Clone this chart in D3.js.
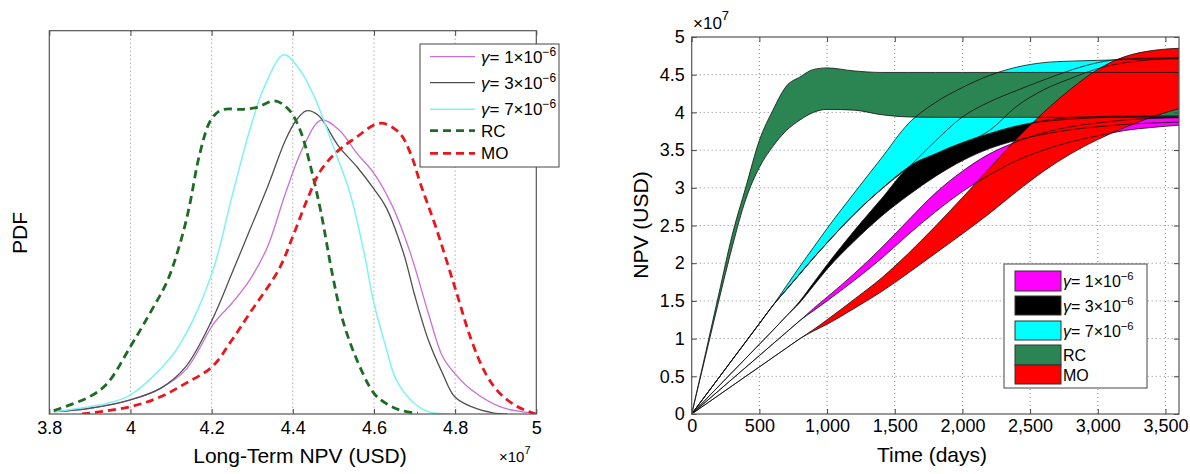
<!DOCTYPE html>
<html>
<head>
<meta charset="utf-8">
<script src="https://cdn.jsdelivr.net/npm/d3@7"></script>
<style>
  body { margin: 0; background: #fff; }
  svg text { font-family: "Liberation Sans", Arial, Helvetica, sans-serif; }
</style>
</head>
<body>
<svg id="chart" width="1190" height="474"></svg>
<script>
// ---------------- data ----------------
// left panel: x in units of 1e7 USD, pdf scaled so the frame top = 1
var pdfTicks = [3.8, 4, 4.2, 4.4, 4.6, 4.8, 5];

var pdfGamma1 = [[3.811,.006],[3.9,.015],[4.0,.037],[4.074,.067],[4.136,.115],[4.206,.237],[4.25,.289],
  [4.294,.350],[4.338,.437],[4.382,.576],[4.426,.697],[4.47,.767],[4.514,.741],[4.558,.680],[4.6,.628],
  [4.646,.541],[4.69,.419],[4.734,.263],[4.769,.150],[4.799,.106],[4.84,.063],[4.91,.019],[4.963,.006],[4.998,.002]];

var pdfGamma3 = [[3.811,.006],[3.899,.015],[4.0,.037],[4.074,.067],[4.136,.123],[4.201,.245],[4.25,.367],
  [4.294,.480],[4.338,.593],[4.382,.715],[4.409,.767],[4.433,.791],[4.462,.780],[4.514,.697],[4.558,.645],
  [4.602,.584],[4.629,.541],[4.673,.419],[4.699,.315],[4.734,.193],[4.769,.106],[4.799,.045],[4.84,.019],
  [4.893,.003],[4.928,0]];

var pdfGamma7 = [[3.811,.006],[3.899,.019],[3.943,.028],[4.0,.050],[4.101,.150],[4.154,.245],[4.206,.384],
  [4.25,.567],[4.294,.741],[4.33,.854],[4.378,.937],[4.418,.897],[4.453,.828],[4.506,.680],[4.541,.576],
  [4.576,.419],[4.6,.289],[4.629,.176],[4.655,.089],[4.699,.028],[4.734,.006],[4.787,0]];

var pdfRC = [[3.811,.009],[3.899,.045],[3.943,.080],[4.0,.176],[4.048,.263],[4.092,.350],[4.127,.463],
  [4.145,.541],[4.171,.680],[4.198,.767],[4.224,.793],[4.277,.795],[4.312,.800],[4.356,.817],[4.391,.793],
  [4.418,.741],[4.444,.645],[4.47,.523],[4.497,.367],[4.523,.245],[4.558,.141],[4.6,.054],[4.629,.028],
  [4.664,.010],[4.708,.002]];

var pdfMO = [[3.881,0],[4.0,.019],[4.074,.045],[4.136,.080],[4.201,.123],[4.25,.193],[4.294,.263],
  [4.365,.376],[4.4,.463],[4.435,.558],[4.47,.637],[4.514,.689],[4.558,.723],[4.6,.754],[4.624,.758],
  [4.664,.732],[4.69,.680],[4.717,.593],[4.752,.489],[4.799,.332],[4.84,.193],[4.875,.106],[4.91,.054],
  [4.954,.019],[4.998,0]];

// right panel: NPV (1e7 USD) over time, low / high envelope of each strategy plus inner traces
var timeDays = [0,100,200,300,400,500,600,700,800,900,1000,1200,1400,1600,1800,2000,2200,2400,2600,2800,3000,3200,3400,3600];
var timeTicks = [0,500,1000,1500,2000,2500,3000,3500];
var npvTicks = [0,0.5,1,1.5,2,2.5,3,3.5,4,4.5,5];

var rcHi = [0,0.79,1.59,2.38,3.01,3.63,4.03,4.35,4.47,4.57,4.59,4.55,4.53,4.53,4.53,4.53,4.53,4.53,4.53,4.53,4.53,4.53,4.53,4.53];
var rcLo = [0,0.75,1.5,2.22,2.85,3.27,3.55,3.76,3.9,4.0,4.04,4.03,3.97,3.94,3.935,3.935,3.935,3.935,3.935,3.935,3.935,3.935,3.935,3.935];

var g7Hi = [0,0.24,0.48,0.72,0.96,1.2,1.44,1.7,1.96,2.21,2.46,2.93,3.39,3.85,4.13,4.33,4.49,4.6,4.66,4.68,4.69,4.70,4.71,4.71];
var g7Lo = [0,0.24,0.48,0.72,0.96,1.2,1.44,1.65,1.86,2.07,2.27,2.65,2.98,3.27,3.44,3.58,3.7,3.81,3.89,3.93,3.945,3.95,3.95,3.95];
var g7MidA = [0,0.24,0.48,0.72,0.96,1.2,1.44,1.65,1.86,2.07,2.27,2.65,2.98,3.27,3.62,3.94,4.14,4.29,4.43,4.56,4.66,4.71,4.72,4.73];
var g7MidB = [0,0.24,0.48,0.72,0.96,1.2,1.44,1.65,1.86,2.07,2.27,2.65,2.98,3.27,3.44,3.58,3.76,4.08,4.3,4.45,4.58,4.66,4.7,4.72];

var g3Hi = [0,0.185,0.37,0.555,0.74,0.925,1.11,1.3,1.5,1.74,1.98,2.43,2.85,3.27,3.45,3.6,3.72,3.82,3.88,3.91,3.93,3.94,3.95,3.95];
var g3Lo = [0,0.185,0.37,0.555,0.74,0.925,1.11,1.3,1.48,1.7,1.92,2.29,2.62,2.9,3.15,3.36,3.52,3.63,3.71,3.77,3.81,3.84,3.86,3.87];

var g1Hi = [0,0.155,0.31,0.465,0.62,0.775,0.93,1.085,1.24,1.4,1.55,1.86,2.2,2.57,2.93,3.22,3.45,3.61,3.73,3.81,3.86,3.9,3.92,3.93];
var g1Lo = [0,0.155,0.31,0.465,0.62,0.775,0.93,1.085,1.24,1.37,1.5,1.77,2.06,2.38,2.68,2.95,3.17,3.36,3.5,3.61,3.69,3.76,3.8,3.83];

var moHi = [0,0.125,0.25,0.375,0.5,0.625,0.75,0.875,1.0,1.12,1.25,1.52,1.8,2.13,2.49,2.87,3.26,3.65,4.0,4.31,4.57,4.74,4.82,4.85];
var moLo = [0,0.125,0.25,0.375,0.5,0.625,0.75,0.875,1.0,1.1,1.19,1.4,1.62,1.87,2.13,2.39,2.66,2.95,3.22,3.45,3.64,3.8,3.94,4.05];

var legendNames = ["g1", "g3", "g7", "RC", "MO"];
var legendExp = {g1: "1", g3: "3", g7: "7"};

// ---------------- drawing ----------------
var svg = d3.select("#chart");

function styleAxis(g, size) {
  g.attr("font-size", size).attr("font-family", null);
  g.select(".domain").remove();
  g.selectAll(".tick line").attr("stroke", "#444");
  g.selectAll(".tick text").attr("fill", "#000");
}

function legendLabel(sel, name, size) {
  if (legendExp[name]) {
    sel.append("tspan").attr("font-style", "italic").text("\u03b3");
    sel.append("tspan").text("= " + legendExp[name] + "\u00d710");
    sel.append("tspan").attr("font-size", size * 0.7).attr("dy", -size * 0.42).text("\u22126");
  } else {
    sel.text(name);
  }
}

// ===== left panel =====
var L = {left: 49.3, right: 536.3, top: 30.7, bottom: 414};
var xL = d3.scaleLinear().domain([3.8, 5]).range([L.left, L.right]);
var yL = d3.scaleLinear().domain([0, 1]).range([L.bottom, L.top]);
var gL = svg.append("g");

svg.append("clipPath").attr("id", "clipL").append("rect")
  .attr("x", L.left).attr("y", L.top).attr("width", L.right - L.left).attr("height", L.bottom - L.top);

gL.append("g").selectAll("line")
  .data(pdfTicks.slice(1, -1))
  .enter().append("line")
    .attr("x1", d => xL(d)).attr("x2", d => xL(d))
    .attr("y1", L.top).attr("y2", L.bottom)
    .attr("stroke", "#888").attr("stroke-dasharray", "1,3");

var pdfLine = d3.line()
  .x(d => xL(d[0])).y(d => yL(d[1]))
  .curve(d3.curveCatmullRom.alpha(0.5));

var leftSeries = [
  {name: "g1", data: pdfGamma1, color: "#cc6fd6", width: 1.3, dash: null},
  {name: "g3", data: pdfGamma3, color: "#505050", width: 1.3, dash: null},
  {name: "g7", data: pdfGamma7, color: "#7ff3f3", width: 1.5, dash: null},
  {name: "RC", data: pdfRC, color: "#1d6b24", width: 2.8, dash: "8,5"},
  {name: "MO", data: pdfMO, color: "#e8161e", width: 2.8, dash: "8,5"}
];

gL.append("g").attr("clip-path", "url(#clipL)")
  .selectAll("path")
  .data(leftSeries)
  .enter().append("path")
    .attr("d", d => pdfLine(d.data))
    .attr("fill", "none")
    .attr("stroke", d => d.color)
    .attr("stroke-width", d => d.width)
    .attr("stroke-dasharray", d => d.dash);

gL.append("g").attr("transform", `translate(0,${L.bottom})`)
  .call(d3.axisBottom(xL).tickValues(pdfTicks).tickSize(-5).tickPadding(7).tickFormat(d => d))
  .call(g => styleAxis(g, 18));
gL.append("g").attr("transform", `translate(0,${L.top})`)
  .call(d3.axisTop(xL).tickValues(pdfTicks).tickSize(-5).tickFormat(""))
  .call(g => styleAxis(g, 18));

gL.append("rect")
  .attr("x", L.left).attr("y", L.top).attr("width", L.right - L.left).attr("height", L.bottom - L.top)
  .attr("fill", "none").attr("stroke", "#555").attr("stroke-width", 1.2);

gL.append("text").attr("x", 300).attr("y", 463).attr("text-anchor", "middle")
  .attr("font-size", 21).text("Long-Term NPV (USD)");
gL.append("text").attr("transform", "translate(27,233) rotate(-90)").attr("text-anchor", "middle")
  .attr("font-size", 21).text("PDF");
gL.append("text").attr("x", 499).attr("y", 462).attr("font-size", 15)
  .call(t => t.append("tspan").text("\u00d710"))
  .call(t => t.append("tspan").attr("font-size", 11).attr("dy", -8).text("7"));

// legend (left)
var legL = gL.append("g");
legL.append("rect").attr("x", 420).attr("y", 44).attr("width", 139).attr("height", 123)
  .attr("fill", "#fff").attr("stroke", "#444").attr("stroke-width", 1);
var legLy = [56.7, 82.7, 109.3, 130.7, 153.3];
var legLrow = legL.selectAll("g.row")
  .data(leftSeries)
  .enter().append("g").attr("class", "row")
    .attr("transform", (d, i) => `translate(0,${legLy[i]})`);
legLrow.append("line").attr("x1", 430).attr("x2", 475)
  .attr("stroke", d => d.color).attr("stroke-width", d => d.width).attr("stroke-dasharray", d => d.dash);
legLrow.append("text").attr("x", 481).attr("y", 6).attr("font-size", 17)
  .each(function(d) { legendLabel(d3.select(this), d.name, 17); });

// ===== right panel =====
var R = {left: 691.7, right: 1179, top: 37, bottom: 414};
var xR = d3.scaleLinear().domain([0, 3600]).range([R.left, R.right]);
var yR = d3.scaleLinear().domain([0, 5]).range([R.bottom, R.top]);
var gR = svg.append("g");

svg.append("clipPath").attr("id", "clipR").append("rect")
  .attr("x", R.left).attr("y", R.top).attr("width", R.right - R.left).attr("height", R.bottom - R.top);

gR.append("g").selectAll("line")
  .data(timeTicks.slice(1))
  .enter().append("line")
    .attr("x1", d => xR(d)).attr("x2", d => xR(d)).attr("y1", R.top).attr("y2", R.bottom)
    .attr("stroke", "#888").attr("stroke-dasharray", "1,3");
gR.append("g").selectAll("line")
  .data(npvTicks.slice(1, -1))
  .enter().append("line")
    .attr("y1", d => yR(d)).attr("y2", d => yR(d)).attr("x1", R.left).attr("x2", R.right)
    .attr("stroke", "#888").attr("stroke-dasharray", "1,3");

var bands = [
  {name: "g7", lo: g7Lo, hi: g7Hi, color: "#00ffff", extra: [g7MidA, g7MidB]},
  {name: "g3", lo: g3Lo, hi: g3Hi, color: "#000000", extra: []},
  {name: "g1", lo: g1Lo, hi: g1Hi, color: "#ff00ff", extra: []},
  {name: "RC", lo: rcLo, hi: rcHi, color: "#2b8552", extra: []},
  {name: "MO", lo: moLo, hi: moHi, color: "#ff0000", extra: []}
];

var bandArea = d3.area()
  .x((d, i) => xR(timeDays[i]))
  .y0(d => yR(d[0])).y1(d => yR(d[1]))
  .curve(d3.curveMonotoneX);
var traceLine = d3.line()
  .x((d, i) => xR(timeDays[i])).y(d => yR(d))
  .curve(d3.curveMonotoneX);

var plotR = gR.append("g").attr("clip-path", "url(#clipR)");
plotR.selectAll("path.band")
  .data(bands)
  .enter().append("path").attr("class", "band")
    .attr("d", d => bandArea(d3.zip(d.lo, d.hi)))
    .attr("fill", d => d.color);

var traces = [];
bands.forEach(b => { traces.push(b.lo, b.hi); b.extra.forEach(e => traces.push(e)); });
plotR.selectAll("path.trace")
  .data(traces)
  .enter().append("path").attr("class", "trace")
    .attr("d", d => traceLine(d))
    .attr("fill", "none").attr("stroke", "#111").attr("stroke-width", 0.8);

gR.append("g").attr("transform", `translate(0,${R.bottom})`)
  .call(d3.axisBottom(xR).tickValues(timeTicks).tickSize(-5).tickPadding(5).tickFormat(d3.format(",")))
  .call(g => styleAxis(g, 18));
gR.append("g").attr("transform", `translate(0,${R.top})`)
  .call(d3.axisTop(xR).tickValues(timeTicks).tickSize(-5).tickFormat(""))
  .call(g => styleAxis(g, 18));
gR.append("g").attr("transform", `translate(${R.left},0)`)
  .call(d3.axisLeft(yR).tickValues(npvTicks).tickSize(-5).tickPadding(7).tickFormat(d => d))
  .call(g => styleAxis(g, 18));
gR.append("g").attr("transform", `translate(${R.right},0)`)
  .call(d3.axisRight(yR).tickValues(npvTicks).tickSize(-5).tickFormat(""))
  .call(g => styleAxis(g, 18));

gR.append("rect")
  .attr("x", R.left).attr("y", R.top).attr("width", R.right - R.left).attr("height", R.bottom - R.top)
  .attr("fill", "none").attr("stroke", "#555").attr("stroke-width", 1.2);

gR.append("text").attr("x", 932).attr("y", 462).attr("text-anchor", "middle")
  .attr("font-size", 21).text("Time (days)");
gR.append("text").attr("transform", "translate(648,225) rotate(-90)").attr("text-anchor", "middle")
  .attr("font-size", 21).text("NPV (USD)");
gR.append("text").attr("x", 693).attr("y", 29).attr("font-size", 17)
  .call(t => t.append("tspan").text("\u00d710"))
  .call(t => t.append("tspan").attr("font-size", 13).attr("dy", -9).text("7"));

// legend (right)
var legR = gR.append("g");
legR.append("rect").attr("x", 1004).attr("y", 264).attr("width", 143).attr("height", 124)
  .attr("fill", "#fff").attr("stroke", "#444").attr("stroke-width", 1);
var legRy = [271, 296, 321, 345, 365];
var legRh = [20, 19, 19, 20, 19];
var bandByName = {};
bands.forEach(b => bandByName[b.name] = b);
var legRrow = legR.selectAll("g.row")
  .data(legendNames)
  .enter().append("g").attr("class", "row")
    .attr("transform", (d, i) => `translate(0,${legRy[i]})`);
legRrow.append("rect").attr("x", 1015).attr("width", 46).attr("height", (d, i) => legRh[i])
  .attr("fill", d => bandByName[d].color).attr("stroke", "#333").attr("stroke-width", 1);
legRrow.append("text").attr("x", 1063).attr("y", (d, i) => legRh[i] / 2 + 6).attr("font-size", 16)
  .each(function(d) { legendLabel(d3.select(this), d, 16); });
</script>
</body>
</html>
